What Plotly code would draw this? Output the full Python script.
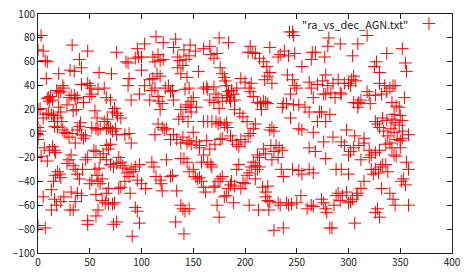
import plotly.graph_objects as go

# (ra, dec) pairs
ra_dec = [
    (0, 70), (3, 82), (5, 69), (7, 61), (9, 60), (8, 46), (33, 74), (31, 53), (35, 52), (40, 62),
    (42, 55), (48, 69), (20, 50), (59, 51), (76, 68), (71, 50), (85, 60), (87, 59), (96, 71), (97, 64),
    (100, 64), (94, 63), (103, 75), (111, 64), (113, 60), (114, 81), (116, 66), (118, 61), (121, 62), (121, 76),
    (133, 79), (131, 72), (135, 64), (137, 61), (141, 70), (143, 62), (146, 65), (147, 74), (152, 69), (160, 71),
    (166, 73), (170, 63), (167, 66), (175, 80), (173, 67), (184, 76), (205, 73), (207, 68), (210, 67), (203, 68),
    (214, 63), (218, 60), (221, 56), (224, 72), (232, 64), (234, 66), (238, 69), (243, 85), (246, 85), (247, 82),
    (242, 65), (248, 67), (265, 68), (268, 68), (264, 62), (277, 64), (281, 80), (280, 73), (292, 75), (304, 65),
    (309, 75), (318, 82), (327, 60), (325, 56), (330, 51), (337, 67), (352, 71), (355, 59), (356, 52),
    (10, 30), (12, 31), (9, 29), (11, 27), (18, 36), (20, 34), (22, 35), (24, 40), (25, 38), (14, 28),
    (20, 22), (22, 18), (19, 13), (15, 15), (16, 6), (23, 10), (28, 24), (30, 30), (32, 32), (35, 32),
    (36, 29), (38, 30), (37, 20), (34, 19), (42, 41), (44, 26), (48, 42), (50, 40), (51, 38), (52, 33),
    (50, 31), (55, 19), (57, 13), (58, 37), (64, 38), (66, 30), (67, 12), (70, 28), (72, 18), (74, 21),
    (76, 17), (77, 15), (80, 13), (88, 46), (87, 40), (90, 28), (100, 53), (103, 40), (98, 33), (108, 45),
    (111, 46), (113, 38), (116, 31), (117, 27), (120, 25), (118, 20), (110, 36), (108, 28), (115, 50), (118, 48),
    (123, 38), (126, 40), (128, 35), (130, 36), (131, 28), (135, 55), (138, 50), (140, 57), (144, 47), (142, 37),
    (146, 38), (148, 27), (150, 30), (143, 22), (145, 24), (147, 22), (138, 20), (136, 12), (140, 14), (145, 10),
    (148, 18), (153, 22), (155, 52), (160, 38), (163, 39), (164, 37), (166, 28), (170, 39), (172, 33), (170, 26),
    (174, 30), (175, 21), (178, 27), (176, 55), (178, 50), (180, 47), (181, 44), (182, 40), (184, 35), (182, 30),
    (183, 32), (185, 30), (186, 27), (189, 33), (187, 36), (192, 38), (190, 28), (196, 46), (200, 43), (204, 38),
    (206, 42), (205, 35), (208, 31), (212, 26), (215, 25), (216, 20), (218, 27), (220, 26), (222, 25), (219, 45),
    (222, 48), (224, 51), (226, 42), (236, 22), (237, 25), (241, 49), (246, 45), (248, 40), (250, 38), (244, 33),
    (247, 24), (252, 24), (255, 56), (258, 22), (262, 43), (264, 38), (266, 30), (270, 41), (272, 18), (275, 44),
    (276, 33), (278, 33), (278, 49), (280, 40), (283, 34), (285, 42), (287, 30), (290, 45), (292, 34), (293, 33),
    (296, 42), (300, 42), (302, 40), (303, 45), (305, 48), (307, 44), (305, 26), (309, 25), (309, 22), (310, 26),
    (312, 28), (318, 35), (320, 32), (321, 25), (326, 32), (330, 42), (332, 33), (335, 40), (337, 35), (340, 38),
    (343, 40), (345, 40), (346, 23), (342, 26), (344, 16), (349, 22), (350, 15), (354, 30), (333, 13), (337, 11),
    (342, 12), (345, 9), (349, 7), (352, 11), (326, 10), (328, 8), (330, 5), (334, 2), (338, -2), (341, 4),
    (344, 1), (347, -5), (350, -6), (352, 2),
    (0, 20), (2, 21), (0, 5), (2, 2), (0, -1), (5, 13), (8, 16), (10, 17), (13, 16), (16, 10),
    (19, 5), (24, 3), (26, 1), (28, 0), (30, -3), (33, 0), (36, -8), (38, 3), (40, 6), (41, 9),
    (42, -1), (44, -4), (46, -2), (52, 5), (56, 4), (58, 3), (60, 4), (64, 10), (66, 4), (68, 5),
    (70, 4), (72, 2), (75, 4), (76, -1), (84, -1), (88, 0), (90, -8),
    (113, -1), (116, 8), (120, 5), (122, 3), (124, 4), (128, -5), (131, -1), (134, -5), (138, -8), (140, -3),
    (144, -8), (146, -6), (148, -9), (150, 1), (153, -7), (156, -12), (160, 10), (164, 10), (168, 10), (172, 10),
    (174, 8), (176, 9), (180, 7), (183, 5), (186, -2), (188, -6), (192, -9), (194, -11), (196, -5), (200, -7),
    (203, -2), (205, 0), (208, 4), (210, 8), (212, -18), (214, -20), (218, -13), (220, -17), (224, 3), (226, 5),
    (228, 2), (230, -10), (233, -12), (236, -14), (198, 14), (202, 10), (195, 17), (190, 20), (182, 9), (178, -4),
    (176, -5), (171, -9), (166, -13), (163, -6), (160, -18), (158, -24), (156, -10),
    (0, -5), (3, -19), (6, -12), (9, -23), (11, -14), (14, -11), (16, -14), (17, -16), (19, -32), (21, -34),
    (22, -37), (17, -35), (15, -40), (13, -47), (16, -55), (18, -60), (22, -57), (25, -53), (13, -64), (5, -53),
    (7, -79), (0, -77), (28, -25), (30, -22), (32, -18), (34, -27), (36, -30), (38, -34), (40, -38), (43, -30),
    (46, -22), (48, -20), (50, -42), (52, -39), (55, -30), (57, -35), (58, -40), (60, -42), (62, -38), (59, -29),
    (54, -14), (56, -15), (60, -20), (63, -17), (66, -10), (68, -13), (70, -9), (66, -22), (70, -26), (73, -28),
    (76, -25), (78, -20), (80, -24), (82, -27), (84, -29), (86, -33), (88, -36), (90, -30), (92, -32), (94, -28),
    (98, -26), (100, -42), (104, -46), (96, -39), (84, -40), (80, -45), (78, -46), (68, -46), (66, -50), (56, -51),
    (62, -56), (65, -58), (68, -59), (72, -59), (74, -58), (58, -64), (56, -69), (48, -73), (48, -76), (42, -52),
    (38, -50), (34, -64), (31, -64), (32, -49), (36, -57), (76, -74), (73, -76), (89, -50), (94, -62), (96, -65),
    (98, -75), (91, -86),
    (110, -24), (112, -28), (114, -36), (118, -39), (119, -42), (120, -48), (124, -22), (128, -36), (130, -35), (134, -48),
    (133, -74), (138, -60), (140, -63), (142, -65), (146, -63), (141, -84), (138, -21), (141, -21), (144, -24), (146, -32),
    (150, -30), (152, -36), (154, -38), (156, -37), (158, -40), (160, -45), (162, -49), (164, -24), (167, -26), (168, -28),
    (170, -45), (171, -44), (174, -40), (176, -38), (178, -36), (173, -60), (175, -70), (180, -53), (182, -52), (184, -46),
    (186, -43), (187, -40), (189, -58), (190, -44), (192, -30), (194, -26), (196, -46), (198, -41), (200, -42), (202, -35),
    (204, -33), (206, -28), (208, -24), (210, -27), (212, -30), (214, -28), (217, -45), (220, -49), (222, -44), (220, -53),
    (222, -56), (224, -57), (213, -64), (204, -60), (210, -38), (223, -64), (228, -81), (237, -79), (232, -58), (242, -60),
    (245, -59), (246, -30), (252, -31), (255, -34), (250, -58), (254, -52), (260, -63), (264, -60), (266, -61), (262, -30),
    (266, -33), (274, -55), (276, -58), (278, -63), (279, -66), (282, -79), (284, -79), (286, -60), (288, -52), (290, -50),
    (292, -56), (294, -52), (298, -49), (300, -58), (302, -57), (304, -55), (308, -52), (309, -50), (312, -46), (315, -40),
    (322, -30), (324, -34), (326, -30), (329, -33), (331, -28), (333, -26), (336, -26), (338, -32), (340, -50), (343, -55),
    (345, -60), (328, -63), (326, -66), (330, -70), (306, -75), (332, -46), (351, -40), (353, -38), (355, -43), (358, -30),
    (358, -60), (288, -30), (293, -30), (300, -34), (300, -18), (302, -15), (305, -12), (310, -10), (315, -8), (320, -14),
    (322, -18), (326, -16), (330, -14), (336, -9), (340, -8), (342, -12), (344, -18), (346, -19), (350, -12), (352, -4),
    (356, -24), (358, -1), (262, -12), (268, -15), (276, -7), (278, -21), (285, -3), (293, -7), (296, -10), (298, 3),
    (306, -2), (315, -4), (312, -22), (320, -20), (266, 1), (270, 10), (274, 18), (278, 10), (282, 16), (252, 4),
    (255, 3), (262, 18), (240, 25), (244, 13), (234, -60), (240, -58), (225, -10), (228, -15), (226, -22), (232, -20),
    (235, -30), (237, -36),
]
ra = [p[0] for p in ra_dec]
dec = [p[1] for p in ra_dec]

legend_label = '"ra_vs_dec_AGN.txt"'
x_ticks = [0, 50, 100, 150, 200, 250, 300, 350, 400]
y_ticks = [-100, -80, -60, -40, -20, 0, 20, 40, 60, 80, 100]

fig = go.Figure()
fig.add_trace(go.Scatter(
    x=ra, y=dec, mode="markers", name="",
    marker=dict(symbol="cross-thin", size=9, color="#ff0000",
                line=dict(width=1, color="#ff0000")),
    showlegend=True,
))

axis_common = dict(
    showgrid=False, zeroline=False, showline=True, linecolor="#222", linewidth=1,
    mirror="allticks", ticks="inside", ticklen=5, tickcolor="#222",
    tickfont=dict(family="Noto Sans CJK JP", size=10, color="#222"),
    ticklabeloverflow="allow",
)
fig.update_xaxes(range=[0, 400], tickvals=x_ticks, **axis_common)
fig.update_yaxes(range=[-100, 100], tickvals=y_ticks, **axis_common)

fig.add_annotation(
    text=legend_label, xref="paper", yref="paper", x=0.8986, y=0.96,
    xanchor="right", yanchor="middle", showarrow=False,
    font=dict(family="Noto Sans CJK JP", size=11, color="#222"),
)

fig.update_layout(
    width=470, height=277,
    margin=dict(l=38, r=18, t=5, b=24),
    paper_bgcolor="white", plot_bgcolor="white",
    legend=dict(
        x=0.896, y=0.96, xanchor="left", yanchor="middle",
        bgcolor="rgba(0,0,0,0)", borderwidth=0,
        font=dict(size=1), itemwidth=30,
    ),
)

fig.write_html("out.html")
